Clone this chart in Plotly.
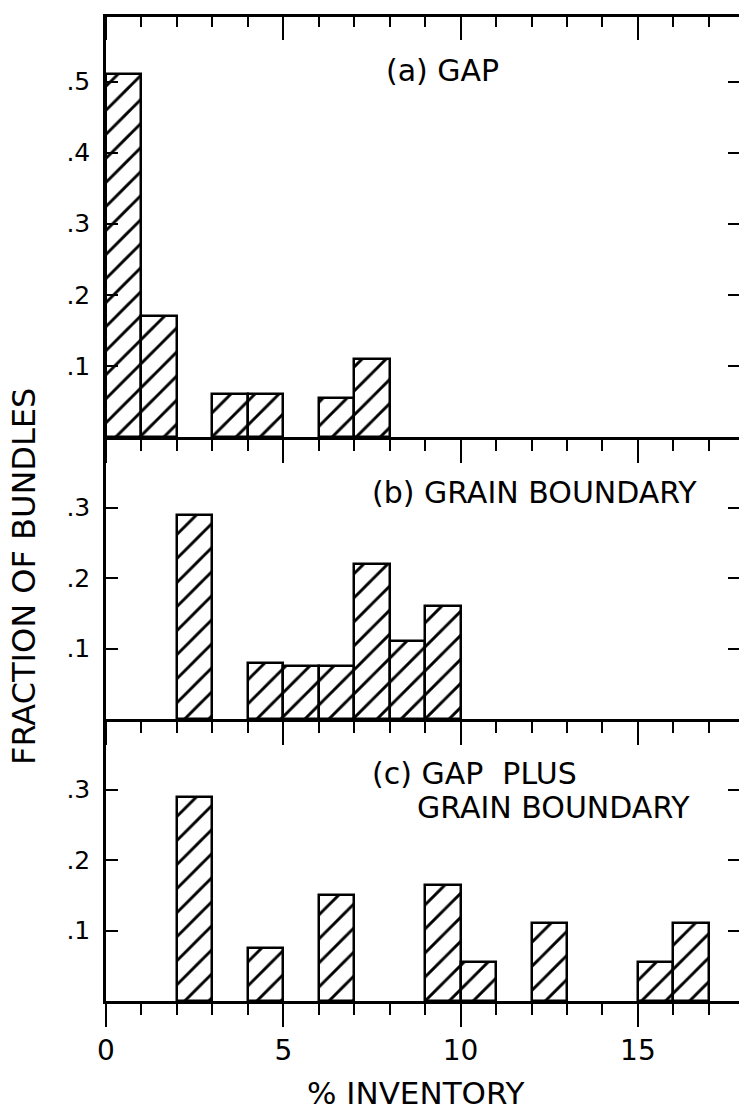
import plotly.graph_objects as go
from plotly.subplots import make_subplots

# ---- data (bins are 1 %-inventory wide; value = left edge of bin) ----
gap_bins = [0, 1, 3, 4, 6, 7]
gap_frac = [0.51, 0.17, 0.06, 0.06, 0.055, 0.11]

gb_bins = [2, 4, 5, 6, 7, 8, 9]
gb_frac = [0.29, 0.08, 0.075, 0.075, 0.22, 0.11, 0.16]

both_bins = [2, 4, 6, 9, 10, 12, 15, 16]
both_frac = [0.29, 0.075, 0.15, 0.165, 0.055, 0.11, 0.055, 0.11]

yticks_a = [0.1, 0.2, 0.3, 0.4, 0.5]
yticks_bc = [0.1, 0.2, 0.3]
ylabels_a = [".1", ".2", ".3", ".4", ".5"]
ylabels_bc = [".1", ".2", ".3"]
xticks = [0, 5, 10, 15]
xlabels = ["0", "5", "10", "15"]

W, H = 739, 1111
ML, MR, MT, MB = 106, 0, 0, 110
XMAX = 17.85
FONT = "DejaVu Sans"

ph = H - MT - MB
pw = W - ML - MR

# row 1 is a thin blank strip whose bottom axis forms the top frame of panel (a)
fig = make_subplots(rows=4, cols=1, vertical_spacing=0, row_heights=[14, 423, 282, 282])

pattern = dict(shape="/", size=17, solidity=0.17, fgcolor="black", bgcolor="white", fgopacity=1)
for r, (bx, by) in enumerate([(gap_bins, gap_frac), (gb_bins, gb_frac), (both_bins, both_frac)], start=2):
    fig.add_trace(go.Bar(x=bx, y=by, width=1, offset=0,
                         marker=dict(color="white", line=dict(color="black", width=2.5),
                                     pattern=pattern),
                         showlegend=False, hoverinfo="skip"), row=r, col=1)

xcommon = dict(range=[0, XMAX], showline=True, linecolor="black", linewidth=2.5,
               ticks="outside", tickvals=xticks, ticklen=23, tickwidth=2, tickcolor="black",
               minor=dict(dtick=1, tick0=0, ticks="outside", ticklen=11, tickwidth=2, tickcolor="black"),
               showgrid=False, zeroline=False, fixedrange=True)

fig.update_layout(
    xaxis=dict(xcommon, showticklabels=False, minor=dict(dtick=1, tick0=0, ticks="outside", ticklen=10,
                                                        tickwidth=2, tickcolor="black")),
    xaxis2=dict(xcommon, showticklabels=False),
    xaxis3=dict(xcommon, showticklabels=False),
    xaxis4=dict(xcommon, showticklabels=True, ticktext=xlabels,
                tickfont=dict(family=FONT, size=28, color="black")),
    yaxis=dict(visible=False, range=[0, 1]),
)

ycommon = dict(showline=True, linecolor="black", linewidth=2.5, ticks="inside", ticklen=12,
               tickwidth=2, tickcolor="black", showgrid=False, zeroline=False,
               tickfont=dict(family=FONT, size=25, color="black"), ticklabelstandoff=8)
fig.update_layout(
    yaxis2=dict(ycommon, range=[0, 0.595], tickvals=yticks_a, ticktext=ylabels_a),
    yaxis3=dict(ycommon, range=[0, 0.4], tickvals=yticks_bc, ticktext=ylabels_bc),
    yaxis4=dict(ycommon, range=[0, 0.4], tickvals=yticks_bc, ticktext=ylabels_bc),
)

rcommon = dict(side="right", showline=False, ticks="inside", ticklen=11, tickwidth=2,
               tickcolor="black", showticklabels=False, showgrid=False, zeroline=False)
fig.update_layout(
    yaxis5=dict(rcommon, overlaying="y2", anchor="x2", range=[0, 0.595], tickvals=yticks_a),
    yaxis6=dict(rcommon, overlaying="y3", anchor="x3", range=[0, 0.4], tickvals=yticks_bc),
    yaxis7=dict(rcommon, overlaying="y4", anchor="x4", range=[0, 0.4], tickvals=yticks_bc),
)
for xa, ya in [("x", "y"), ("x2", "y5"), ("x3", "y6"), ("x4", "y7")]:
    fig.add_trace(go.Scatter(x=[], y=[], xaxis=xa, yaxis=ya, showlegend=False))

tf = dict(family=FONT, size=30, color="black")
fig.add_annotation(text="(a) GAP", x=9.5, y=0.516, xref="x2", yref="y2",
                   showarrow=False, font=tf, xanchor="center", yanchor="middle")
fig.add_annotation(text="(b) GRAIN BOUNDARY", x=7.45, y=0.321, xref="x3", yref="y3",
                   showarrow=False, font=tf, xanchor="left", yanchor="middle")
fig.add_annotation(text="(c) GAP  PLUS", x=7.45, y=0.323, xref="x4", yref="y4",
                   showarrow=False, font=tf, xanchor="left", yanchor="middle")
fig.add_annotation(text="GRAIN BOUNDARY", x=8.72, y=0.275, xref="x4", yref="y4",
                   showarrow=False, font=tf, xanchor="left", yanchor="middle")

fig.add_annotation(text="FRACTION OF BUNDLES", x=(24 - ML) / pw, y=(H - MB - 577) / ph,
                   xref="paper", yref="paper", showarrow=False, textangle=-90,
                   font=dict(family=FONT, size=32, color="black"), xanchor="center", yanchor="middle")
fig.add_annotation(text="% INVENTORY", x=(416 - ML) / pw, y=(H - MB - 1093) / ph,
                   xref="paper", yref="paper", showarrow=False,
                   font=dict(family=FONT, size=31, color="black"), xanchor="center", yanchor="middle")

fig.update_layout(width=W, height=H, margin=dict(l=ML, r=MR, t=MT, b=MB),
                  paper_bgcolor="white", plot_bgcolor="white", bargap=0,
                  font=dict(family=FONT, color="black"), showlegend=False)

fig.write_html("out.html", config={"displayModeBar": False})
